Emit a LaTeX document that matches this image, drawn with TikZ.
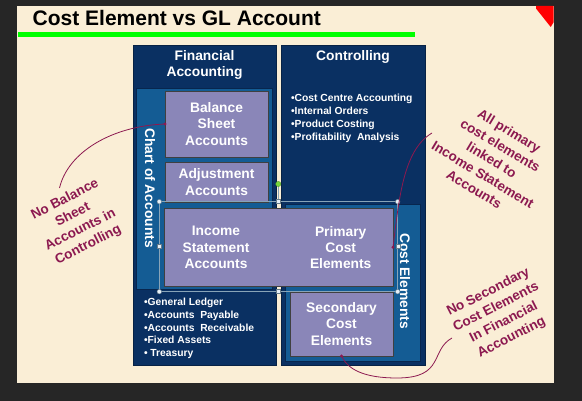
\documentclass[tikz,border=0pt]{standalone}
\usepackage{fontspec}
\setmainfont{Liberation Sans}
\usepackage{xcolor}
\usepackage{tikz}
\usetikzlibrary{calc}
\definecolor{navy}{RGB}{10,48,98}
\definecolor{midblue}{RGB}{20,92,148}
\definecolor{lavender}{RGB}{138,134,184}
\definecolor{cream}{RGB}{250,238,214}
\definecolor{maroon}{RGB}{140,25,80}
\definecolor{handle}{RGB}{170,205,230}
\definecolor{hgreen}{RGB}{120,215,60}

\begin{document}
\begin{tikzpicture}[x=1pt,y=-1pt,
  box/.style={anchor=north west,inner sep=0pt,outer sep=0pt},
  navybox/.style={box,fill=navy,draw=navy!70!black,line width=0.6pt},
  bluebox/.style={box,fill=midblue,draw=navy!80!black,line width=0.8pt},
  lavbox/.style={box,fill=lavender,draw=black!75,line width=0.8pt},
  boxtext/.style={text=white,font=\fontsize{13.8}{16.3}\selectfont\bfseries,align=center},
  listtext/.style={text=white,font=\fontsize{10.3}{12.7}\selectfont\bfseries,align=left,anchor=west},
  callout/.style={text=maroon,font=\fontsize{13.5}{17}\selectfont\bfseries,align=center},
  link/.style={maroon,line width=0.8pt},
  hnd/.style={fill=white!70!handle,draw=handle!60!black,line width=0.4pt}]
\useasboundingbox (0,0) rectangle (582,401);
\fill[black!85] (0,0) rectangle (582,401);
\fill[cream] (17,6) rectangle (554,383);
\fill[red] (536,6) -- (553.7,6) -- (553.7,22) -- (550.7,27) -- (536,8.5) -- cycle;

% title
\node[anchor=base west,inner sep=0pt,font=\fontsize{21}{25}\selectfont\bfseries] (title) at (32.5,26) {Cost Element vs GL Account};
\fill[green] (18,32.5) rectangle (415,37.5);

% outer boxes
\node[navybox,minimum width=143pt,minimum height=320pt] (fa) at (133,45) {};
\node[navybox,minimum width=144pt,minimum height=320pt] (ctrl) at (281.5,45) {};
\node[bluebox,minimum width=136pt,minimum height=201pt] (chart) at (136,88) {};
\node[bluebox,minimum width=135pt,minimum height=157pt] (ce) at (285,204) {};

% account boxes
\node[lavbox,minimum width=103pt,minimum height=66pt] (bs) at (165,91) {};
\node[lavbox,minimum width=103pt,minimum height=40pt] (adj) at (165,162) {};
\node[lavbox,minimum width=103pt,minimum height=64pt] (sce) at (290,292) {};
\node[lavbox,minimum width=229pt,minimum height=78.5pt] (isa) at (164,208) {};

\node[boxtext] (fahead) at (204.5,65) {Financial\\Accounting};
\node[boxtext] (ctrlhead) at (353,57) {Controlling};
\node[boxtext] (bstext) at (bs.center) {Balance\\Sheet\\Accounts};
\node[boxtext] (adjtext) at (adj.center) {Adjustment\\Accounts};
\node[boxtext] (istext) at (216,247.5) {Income\\Statement\\Accounts};
\node[boxtext] (pcetext) at (340.7,247.5) {Primary\\Cost\\Elements};
\node[boxtext] (scetext) at (sce.center) {Secondary\\Cost\\Elements};
\node[boxtext,rotate=-90] (charttext) at (150,188) {Chart of Accounts};
\node[boxtext,rotate=-90] (cetext) at (405,281) {Cost Elements};

\node[listtext] (ctrllist) at (287.5,118.3) {•Cost Centre Accounting\\•Internal Orders\\•Product Costing\\•Profitability\ \ Analysis};
\node[listtext] (falist) at (140.5,328.5) {•General Ledger\\•Accounts\ \ Payable\\•Accounts\ \ Receivable\\•Fixed Assets\\• Treasury};

% selection handles
\draw[handle!80!black,line width=0.5pt] (159.3,201.7) rectangle (397.7,291.7);
\draw[handle!80!black,line width=0.5pt] (278.3,184) -- (278.3,201.7);
\foreach \p in {(159.3,201.7),(397.7,201.7),(159.3,291.7),(397.7,291.7)}
  \draw[hnd] \p circle[radius=2.3pt];
\foreach \p in {(278.3,201.7),(159.3,246.7),(397.7,246.7),(278.3,291.7)}
  \draw[hnd] \p ++(-2,-2) rectangle ++(4,4);
\draw[fill=hgreen,draw=hgreen!70!black,line width=0.4pt] (278.3,184) circle[radius=2.6pt];

% callouts
\node[callout,rotate=27] (nobs) at (76.7,222.5) {No Balance\\Sheet\\Accounts in\\Controlling};
\node[callout,rotate=-31] (allpce) at (491.7,160) {All primary\\cost elements\\linked to\\Income Statement\\Accounts};
\node[callout,rotate=27] (nosce) at (500,315) {No Secondary\\Cost Elements\\In Financial\\Accounting};

\coordinate (nobsend) at (59.5,188);
\coordinate (allpceend) at (432,133);
\coordinate (nosceend) at (452,338);
\draw[link] (nobsend) .. controls (68,152) and (112,126) .. (bs.west);
\fill[maroon] (bs.west) circle[radius=1.6pt];
\draw[link] (allpceend) .. controls (403,150) and (399,200) .. (isa.east);
\fill[maroon] (isa.east) circle[radius=1.6pt];
\draw[link] (nosceend) .. controls (430,350) and (445,378) .. (397,378) .. controls (365,378) and (348,370) .. (sce.south);
\fill[maroon] (sce.south) circle[radius=1.6pt];
\end{tikzpicture}
\end{document}
